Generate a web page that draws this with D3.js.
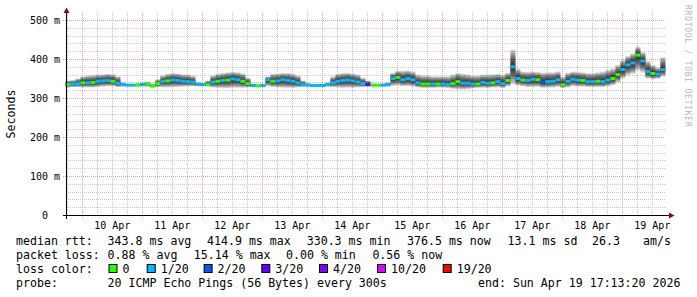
<!DOCTYPE html>
<html><head><meta charset="utf-8">
<script src="https://cdn.jsdelivr.net/npm/d3@7/dist/d3.min.js"></script>
<style>
html,body{margin:0;padding:0;background:#fff;}
svg{display:block;}
text{font-family:"DejaVu Sans Mono",monospace;white-space:pre;}
</style></head><body>
<svg id="c" width="697" height="297"></svg>
<script>
// ---------- data ----------
const startTime = "2026-04-09T17:13:20Z";
const endTime   = "2026-04-19T17:13:20Z";
const stepHours = 2;
const median = [335,336,337,339,339,340,343,344,345,343, 338,334,333,333,333,334,335,331,337,343,
  344,346,345,343,342,341,335,334,334,341, 343,345,346,349,347,343,337,332,331,332,
  347,343,344,347,345,343,339,334,333,332, 332,332,334,339,343,345,346,344,341,337,
  334,333,333,333,334,350,353,347,350,347, 339,336,336,336,336,336,335,337,342,338,
  338,336,336,340,338,339,342,337,345,380, 350,346,345,348,347,341,342,343,347,334,
  343,348,346,345,342,342,343,342,346,350, 360,373,385,390,410,395,368,363,361,373];
const smokeLow = [327,328,328,327,327,327,328,329,330,330, 328,330,331,331,330,331,329,327,328,327,
  327,328,328,329,330,330,331,331,330,327, 326,325,325,326,326,326,327,329,329,330,
  330,328,327,326,326,326,327,329,330,330, 330,330,330,328,327,326,326,326,327,328,
  330,330,330,330,330,331,332,330,330,329, 327,326,326,326,327,327,326,324,322,322,
  323,325,326,326,326,327,327,326,330,335, 332,330,328,328,328,326,327,327,328,326,
  327,330,329,329,328,328,328,328,330,333, 340,350,358,362,370,365,350,348,350,355];
const smokeHigh = [345,346,350,356,358,359,360,361,362,361, 356,340,336,336,338,340,341,336,348,358,
  362,364,363,361,360,357,340,338,345,358, 362,364,366,367,366,363,352,337,335,336,
  355,362,363,364,364,362,358,345,338,335, 335,335,340,355,362,364,365,363,360,352,
  345,337,336,336,340,364,370,370,371,368, 360,358,358,356,356,356,356,360,364,362,
  360,358,358,360,360,361,362,360,365,425, 375,368,367,368,367,365,366,366,368,355,
  365,368,367,366,364,364,366,368,372,376, 385,398,408,415,432,418,395,385,378,405];
const lossIdx = [0,1,1,0,1,0,1,1,1,0, 1,1,1,1,0,1,0,0,0,1, 0,1,1,1,1,1,1,1,0,1, 0,1,0,1,1,0,0,1,0,1,
  1,0,1,1,1,1,1,1,1,1, 1,1,1,1,1,1,1,1,1,1, 3,0,0,1,1,1,0,1,1,1, 1,0,0,1,0,1,1,0,0,1,
  1,1,0,1,1,0,1,1,0,1, 1,0,1,1,0,2,1,1,1,0, 1,1,1,0,1,1,0,1,1,0, 0,1,1,1,0,1,1,0,1,1];
const lossLabels = ["0","1/20","2/20","3/20","4/20","10/20","19/20"];
const lossColors = ["#26ff00","#00b8ff","#0059ff","#5e00ff","#7e00ff","#dd00ff","#ff0000"];
const yTicks = [0,100,200,300,400,500];
const yTickLabels = ["0  ","100 m","200 m","300 m","400 m","500 m"];
const dayLabels = ["10 Apr","11 Apr","12 Apr","13 Apr","14 Apr","15 Apr","16 Apr","17 Apr","18 Apr","19 Apr"];
const rttLine = ["median rtt:","343.8 ms avg","414.9 ms max","330.3 ms min","376.5 ms now","13.1 ms sd","26.3","am/s"];
const lossLine = ["packet loss:","0.88 % avg","15.14 % max","0.00 % min","0.56 % now"];
const probeLine = ["probe:","20 ICMP Echo Pings (56 Bytes) every 300s","end: Sun Apr 19 17:13:20 2026"];

// ---------- layout ----------
const W = 697, H = 297;
const plot = {l: 65.4, r: 665.4, t: 13, b: 215};
const rttX = [16,107.6,207,306.7,407,507.6,592,643];
const lossX = [16,107.6,193.8,286,372.4];
const boxX = [108.5,146.7,203.6,261.3,319,377,442.7];
const probeX = [16,107.6,478];
const lineY = [245,259,273,287];
const legendFont = "11.6px";

const svg = d3.select("#c");
svg.append("rect").attr("width",W).attr("height",H).attr("fill","#fff");

const t0 = new Date(startTime), t1 = new Date(endTime);
const x = d3.scaleUtc().domain([t0,t1]).range([plot.l, plot.r]);
const y = d3.scaleLinear().domain([0,518]).range([plot.b, plot.t]);

const times = d3.range(median.length+1).map(i => new Date(t0.getTime() + i*stepHours*3600e3));

// ---------- grid ----------
const grid = svg.append("g");
const px = v => Math.round(v) + 0.5;
const minorT = d3.utcHour.every(6).range(t0, t1).filter(d => d.getUTCHours() !== 0);
const majorT = d3.utcDay.range(t0, t1);
grid.selectAll(".mv").data(minorT).join("line")
  .attr("x1", d => px(x(d))).attr("x2", d => px(x(d)))
  .attr("y1", plot.t).attr("y2", plot.b)
  .attr("stroke","#c8c8c8").attr("stroke-dasharray","1,1");
const minorY = d3.range(20, 520, 20).filter(v => v % 100 !== 0);
grid.selectAll(".mh").data(minorY).join("line")
  .attr("x1", 66).attr("x2", plot.r)
  .attr("y1", d => px(y(d))).attr("y2", d => px(y(d)))
  .attr("stroke","#c8c8c8").attr("stroke-dasharray","1,1");
grid.selectAll(".Mv").data(majorT).join("line")
  .attr("x1", d => px(x(d))).attr("x2", d => px(x(d)))
  .attr("y1", plot.t).attr("y2", plot.b + 3)
  .attr("stroke","#eaa0a0").attr("stroke-dasharray","1,1");
grid.selectAll(".Mh").data(yTicks.filter(v => v > 0)).join("line")
  .attr("x1", 63).attr("x2", plot.r)
  .attr("y1", d => px(y(d))).attr("y2", d => px(y(d)))
  .attr("stroke","#eaa0a0").attr("stroke-dasharray","1,1");

// ---------- smoke ----------
const NL = 10;
const smoke = svg.append("g");
for (let k = NL; k >= 1; k--) {
  const f = k / NL;
  const area = d3.area()
    .x((d,i) => x(times[i]))
    .y0((d,i) => { const j = Math.min(i, median.length-1); return y(median[j] - (median[j]-smokeLow[j])*f); })
    .y1((d,i) => { const j = Math.min(i, median.length-1); return y(median[j] + (smokeHigh[j]-median[j])*f); })
    .curve(d3.curveStepAfter);
  smoke.append("path").datum(times).attr("d", area)
    .attr("fill","#000").attr("fill-opacity",0.14);
}

// ---------- median coloured by loss ----------
svg.append("g").selectAll("rect").data(median).join("rect")
  .attr("x", (d,i) => x(times[i]))
  .attr("width", (d,i) => x(times[i+1]) - x(times[i]))
  .attr("y", d => y(d) - 1.5).attr("height", 3)
  .attr("fill", (d,i) => lossColors[lossIdx[i]]);

// ---------- axes ----------
const ax = svg.append("g");
ax.append("line").attr("x1",63).attr("x2",670).attr("y1",215.5).attr("y2",215.5).attr("stroke","#000");
ax.append("line").attr("x1",66.5).attr("x2",66.5).attr("y1",219).attr("y2",11).attr("stroke","#000");
ax.append("path").attr("d","M63.5,13L69.5,13L66.5,7.5Z").attr("fill","#7f1010");
ax.append("path").attr("d","M669,212.5L669,218.5L674.5,215.5Z").attr("fill","#7f1010");

ax.selectAll(".yl").data(yTicks).join("text")
  .attr("x", 60).attr("y", d => y(d)).attr("dy","0.35em")
  .attr("text-anchor","end").attr("font-size","10px").attr("fill","#000")
  .text((d,i) => yTickLabels[i]);
ax.selectAll(".xl").data(majorT).join("text")
  .attr("x", d => x(new Date(d.getTime() + 12*3600e3))).attr("y", 228.5)
  .attr("text-anchor","middle").attr("font-size","10px").attr("fill","#000")
  .text((d,i) => dayLabels[i]);

svg.append("text").attr("transform","translate(14.5,114) rotate(-90)")
  .attr("text-anchor","middle").attr("font-size",legendFont).text("Seconds");

svg.append("text").attr("transform","translate(684.5,5) rotate(90)")
  .attr("font-size","8px").attr("fill","#b8b8b8").attr("letter-spacing","0.75")
  .text("RRDTOOL / TOBI OETIKER");

// ---------- legend ----------
const lg = svg.append("g").attr("font-size",legendFont).attr("fill","#000");
rttLine.forEach((s,i) => lg.append("text").attr("x",rttX[i]).attr("y",lineY[0]).text(s));
lossLine.forEach((s,i) => lg.append("text").attr("x",lossX[i]).attr("y",lineY[1]).text(s));
lg.append("text").attr("x",16).attr("y",lineY[2]).text("loss color:");
lossLabels.forEach((s,i) => {
  lg.append("rect").attr("x",boxX[i]+0.5).attr("y",lineY[2]-8.5).attr("width",8).attr("height",8)
    .attr("fill",lossColors[i]).attr("stroke","#000");
  lg.append("text").attr("x",boxX[i]+14).attr("y",lineY[2]).text(s);
});
probeLine.forEach((s,i) => lg.append("text").attr("x",probeX[i]).attr("y",lineY[3]).text(s));
</script>
</body></html>
